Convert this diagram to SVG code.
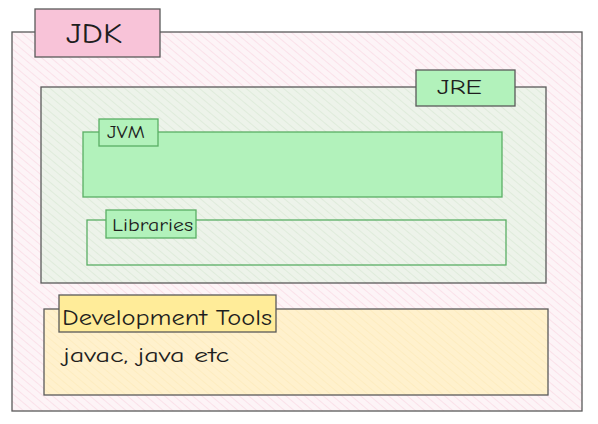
<svg xmlns="http://www.w3.org/2000/svg" width="598" height="424" viewBox="0 0 598 424">
<defs>
<pattern id="hPink" width="6" height="6" patternUnits="userSpaceOnUse" patternTransform="rotate(-50)">
<rect width="6" height="6" fill="#fdf4f7"/>
<line x1="0" y1="0" x2="0" y2="6" stroke="#f8d4e1" stroke-width="1.2"/>
</pattern>
<pattern id="hGreen" width="6" height="6" patternUnits="userSpaceOnUse" patternTransform="rotate(-50)">
<rect width="6" height="6" fill="#edf3ea"/>
<line x1="0" y1="0" x2="0" y2="6" stroke="#d6e6d2" stroke-width="1.2"/>
</pattern>
<pattern id="hYellow" width="6" height="6" patternUnits="userSpaceOnUse" patternTransform="rotate(-50)">
<rect width="6" height="6" fill="#fff1cd"/>
<line x1="0" y1="0" x2="0" y2="6" stroke="#fde9b8" stroke-width="1.2"/>
</pattern>
</defs>
<style>
.dark{stroke:#5a5a5a;stroke-width:1.3}
.grn{stroke:#5aae64;stroke-width:1.3}
text{font-family:"Comic Neue","Liberation Sans",sans-serif;fill:#1e1e1e}
</style>
<rect width="598" height="424" fill="#ffffff"/>
<g id="jdk">
<rect x="12" y="32" width="570" height="379" fill="url(#hPink)" class="dark"/>
<rect x="35" y="9" width="125" height="48" fill="#f8c3d8" class="dark"/>
<text x="66" y="43" font-size="29" textLength="56" lengthAdjust="spacingAndGlyphs">JDK</text>
</g>
<g id="jre">
<rect x="41" y="87" width="505" height="196" fill="url(#hGreen)" class="dark"/>
<rect x="416" y="70" width="99" height="36" fill="#b2f2bb" class="dark"/>
<text x="437" y="94" font-size="20" textLength="45" lengthAdjust="spacingAndGlyphs">JRE</text>
</g>
<g id="jvm">
<rect x="83" y="132" width="419" height="65" fill="#b2f2bb" class="grn"/>
<rect x="99" y="119" width="59" height="27" fill="#b2f2bb" class="grn"/>
<text x="107" y="138" font-size="18" textLength="38" lengthAdjust="spacingAndGlyphs">JVM</text>
</g>
<g id="libraries">
<rect x="87" y="220" width="419" height="45" fill="none" class="grn"/>
<rect x="106" y="210" width="90" height="28" fill="#b2f2bb" class="grn"/>
<text x="112" y="231" font-size="19" textLength="81" lengthAdjust="spacingAndGlyphs">Libraries</text>
</g>
<g id="devtools">
<rect x="44" y="309" width="504" height="86" fill="url(#hYellow)" class="dark"/>
<rect x="59" y="295" width="217" height="37" fill="#ffec99" class="dark"/>
<text x="62" y="325" font-size="23" textLength="210" lengthAdjust="spacingAndGlyphs">Development Tools</text>
<text x="63" y="362" font-size="21" textLength="166" lengthAdjust="spacingAndGlyphs">javac, java etc</text>
</g>
<g id="connectors"></g>
</svg>
